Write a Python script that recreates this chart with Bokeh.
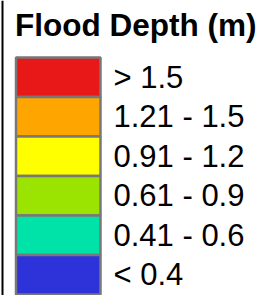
from bokeh.plotting import figure
from bokeh.models import ColumnDataSource, Range1d, Label, Span
from bokeh.core.properties import value
from bokeh.embed import file_html
from bokeh.resources import INLINE

title_text = "Flood Depth (m)"
classes = ["> 1.5", "1.21 - 1.5", "0.91 - 1.2", "0.61 - 0.9", "0.41 - 0.6", "< 0.4"]
colors = ["#E81818", "#FFA500", "#FFFF00", "#9BE300", "#00E3A8", "#2E33D9"]
rows = list(range(len(classes)))

W, H = 258, 295
row_px = 39.5
top_px = 57.0
span = H / row_px
y_top = -top_px / row_px

src = ColumnDataSource(dict(
    top=[r for r in rows],
    bottom=[r + 1 for r in rows],
    mid=[r + 0.5 for r in rows],
    color=colors,
    label=classes,
))

p = figure(width=W, height=H, output_backend="svg", toolbar_location=None,
           x_range=Range1d(0, W), y_range=Range1d(y_top + span, y_top),
           min_border=0, min_border_left=0, min_border_right=0,
           min_border_top=0, min_border_bottom=0)
p.axis.visible = False
p.grid.visible = False
p.outline_line_color = None
p.background_fill_color = "white"
p.border_fill_color = "white"

p.add_layout(Span(location=2, dimension="height", line_color="black", line_width=2))

p.quad(left=15.5, right=100, top="top", bottom="bottom", fill_color="color",
       line_color="#787878", line_width=2.5, source=src)
p.text(x=113, y="mid", text="label", source=src, text_font=value("Liberation Sans"),
       text_font_size="31px", text_color="black", text_baseline="middle",
       text_align="left")

p.add_layout(Label(x=14.5, y=H - 24, x_units="screen", y_units="screen", text=title_text,
                   text_font="Liberation Sans", text_font_size="31.5px",
                   text_font_style="bold", text_color="black",
                   text_baseline="middle"))

open("out.html", "w").write(file_html(p, INLINE))
